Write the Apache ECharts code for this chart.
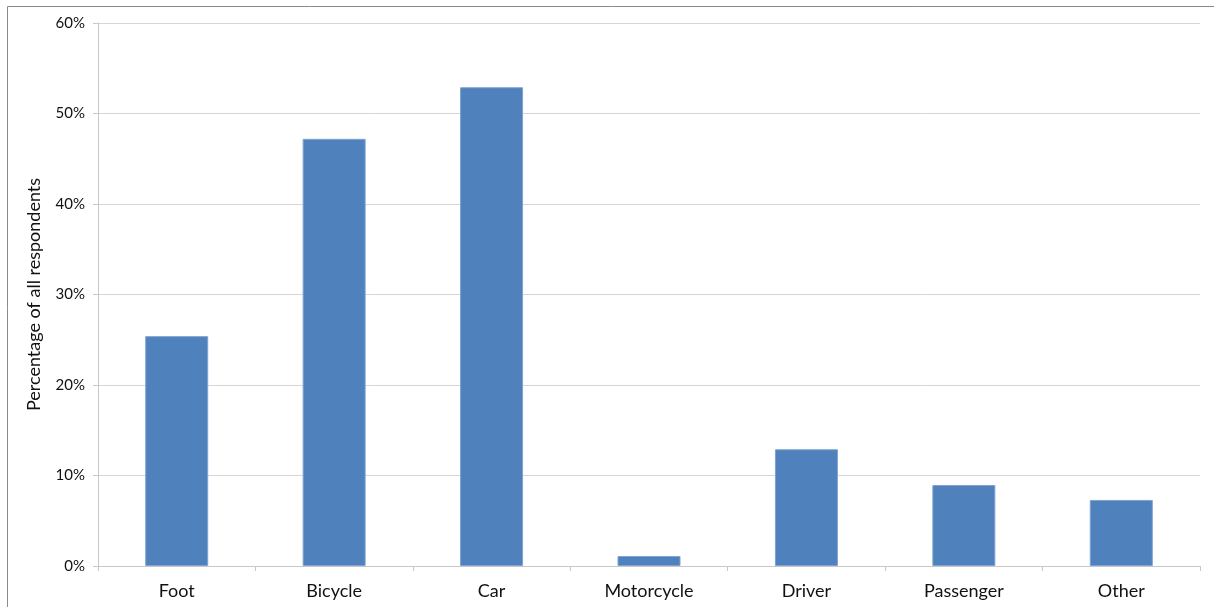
<!DOCTYPE html>
<html>
<head>
<meta charset="utf-8">
<script src="https://cdn.jsdelivr.net/npm/echarts@6/dist/echarts.min.js"></script>
<style>
html,body{margin:0;padding:0;background:#fff;}
#chart{width:1214px;height:607px;}
</style>
</head>
<body>
<div id="chart"></div>
<script>
const categories = ['Foot', 'Bicycle', 'Car', 'Motorcycle', 'Driver', 'Passenger', 'Other'];
const values = [25.4, 47.2, 52.9, 1.1, 12.9, 8.95, 7.3];
const yAxisName = 'Percentage of all respondents';

const chart = echarts.init(document.getElementById('chart'));
const font = 'Lato, "Open Sans", sans-serif';
chart.setOption({
  animation: false,
  backgroundColor: '#fff',
  graphic: [{
    type: 'rect',
    shape: { x: 7.5, y: 6.5, width: 1230, height: 640 },
    style: { fill: 'none', stroke: '#8a8a8a', lineWidth: 1 },
    silent: true
  }],
  grid: { left: 98, right: 14, top: 23, bottom: 41 },
  xAxis: {
    type: 'category',
    data: categories,
    axisLine: { lineStyle: { color: '#c8c8c8', width: 1 } },
    axisTick: { show: true, alignWithLabel: false, length: 5, lineStyle: { color: '#c8c8c8' } },
    axisLabel: { color: '#111', fontSize: 18, fontFamily: font, margin: 16 }
  },
  yAxis: {
    type: 'value',
    min: 0, max: 60, interval: 10,
    name: yAxisName,
    nameLocation: 'middle',
    nameGap: 55,
    nameTextStyle: { color: '#111', fontSize: 18, fontFamily: font },
    axisLine: { show: true, lineStyle: { color: '#c8c8c8', width: 1 } },
    axisTick: { show: true, length: 5, lineStyle: { color: '#c8c8c8' } },
    axisLabel: { color: '#111', fontSize: 15, fontFamily: font, margin: 13, formatter: '{value}%' },
    splitLine: { lineStyle: { color: '#d6d6d6', width: 1 } }
  },
  series: [{
    type: 'bar',
    data: values,
    barWidth: 63,
    itemStyle: { color: '#4f81bd', borderColor: '#7ea3d2', borderWidth: 1 }
  }]
});
</script>
</body>
</html>
